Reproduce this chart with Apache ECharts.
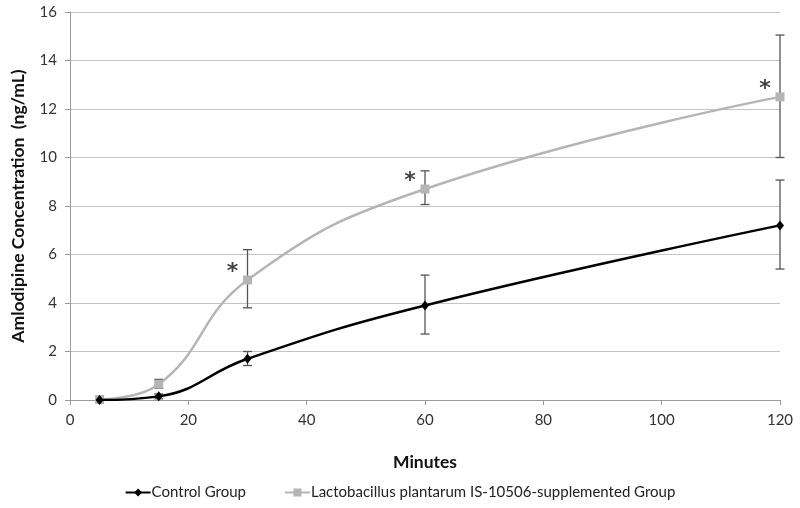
<!DOCTYPE html>
<html><head><meta charset="utf-8">
<script src="https://cdn.jsdelivr.net/npm/echarts@6/dist/echarts.min.js"></script>
<style>html,body{margin:0;padding:0;background:#fff}#c{width:800px;height:508px}</style>
</head><body><div id="c"></div>
<script>
var minutes = [5, 15, 30, 60, 120];
var controlMean = [0, 0.15, 1.7, 3.9, 7.2];
var controlLow = [0, 0.05, 1.42, 2.72, 5.4];
var controlHigh = [0, 0.25, 2.0, 5.15, 9.07];
var lactoMean = [0.02, 0.65, 4.95, 8.7, 12.5];
var lactoLow = [0.02, 0.48, 3.8, 8.06, 10.0];
var lactoHigh = [0.02, 0.85, 6.2, 9.45, 15.05];
var sigMinutes = [30, 60, 120];
var sigValues = [4.95, 8.7, 12.5];
var xTicks = [0, 20, 40, 60, 80, 100, 120];
var yTicks = [0, 2, 4, 6, 8, 10, 12, 14, 16];
var controlName = 'Control Group';
var lactoName = 'Lactobacillus plantarum IS-10506-supplemented Group';

var FONT = 'Lato';
function pairs(xs, ys){ return xs.map(function(x,i){return [x, ys[i]];}); }
function errData(xs, lo, hi){ return xs.map(function(x,i){return [x, lo[i], hi[i]];}); }
function errSeries(data){
  return {
    type:'custom', silent:true, z:1,
    data:data,
    renderItem:function(params, api){
      var x = api.value(0), lo = api.value(1), hi = api.value(2);
      if (hi - lo < 1e-6) return null;
      var p1 = api.coord([x, hi]), p2 = api.coord([x, lo]);
      var w = 4.5;
      var st = {stroke:'#555', lineWidth:1.3};
      return {type:'group', children:[
        {type:'line', shape:{x1:p1[0], y1:p1[1], x2:p2[0], y2:p2[1]}, style:st},
        {type:'line', shape:{x1:p1[0]-w, y1:p1[1], x2:p1[0]+w, y2:p1[1]}, style:st},
        {type:'line', shape:{x1:p2[0]-w, y1:p2[1], x2:p2[0]+w, y2:p2[1]}, style:st}
      ]};
    }
  };
}
var chart = echarts.init(document.getElementById('c'));
chart.setOption({
  animation:false,
  backgroundColor:'#fff',
  textStyle:{fontFamily:FONT},
  grid:{left:70, right:20, top:12, bottom:108, containLabel:false, outerBoundsMode:'none'},
  legend:{
    top:480, left:'center', itemWidth:25, itemHeight:10, itemGap:38,
    textStyle:{fontFamily:FONT, fontSize:15, color:'#222', padding:[0,0,0,-4]},
    data:[controlName, lactoName]
  },
  xAxis:{
    type:'value', min:0, max:120, interval:20,
    name:'Minutes', nameLocation:'middle', nameGap:53,
    nameTextStyle:{fontFamily:FONT, fontSize:17.5, fontWeight:'bold', color:'#111'},
    axisLine:{show:true, lineStyle:{color:'#9a9a9a', width:1}},
    axisTick:{show:true, inside:false, length:5, lineStyle:{color:'#9a9a9a'}},
    axisLabel:{fontFamily:FONT, fontSize:15, color:'#333', margin:13,
      formatter:function(v){return xTicks.indexOf(v)>=0 ? String(v) : '';}},
    splitLine:{show:false}
  },
  yAxis:{
    type:'value', min:0, max:16, interval:2,
    name:'Amlodipine Concentration  (ng/mL)', nameLocation:'middle', nameGap:43,
    nameTextStyle:{fontFamily:FONT, fontSize:17.5, fontWeight:'bold', color:'#111'},
    axisLine:{show:true, lineStyle:{color:'#9a9a9a', width:1}},
    axisTick:{show:true, inside:false, length:5, lineStyle:{color:'#9a9a9a'}},
    axisLabel:{fontFamily:FONT, fontSize:15, color:'#333', margin:13,
      formatter:function(v){return yTicks.indexOf(v)>=0 ? String(v) : '';}},
    splitLine:{show:true, lineStyle:{color:'#c4c4c4', width:1.2}}
  },
  series:[
    errSeries(errData(minutes, lactoLow, lactoHigh)),
    errSeries(errData(minutes, controlLow, controlHigh)),
    {
      name:lactoName, type:'line', smooth:0.45, z:3,
      data:pairs(minutes, lactoMean),
      symbol:'rect', symbolSize:9,
      lineStyle:{color:'#b5b5b5', width:2.5},
      itemStyle:{color:'#b5b5b5'}
    },
    {
      name:controlName, type:'line', smooth:0.45, z:4,
      data:pairs(minutes, controlMean),
      symbol:'diamond', symbolSize:[8,10],
      lineStyle:{color:'#000', width:2.5},
      itemStyle:{color:'#000'}
    },
    {
      type:'scatter', silent:true, z:5, symbolSize:0,
      data:pairs(sigMinutes, sigValues),
      label:{show:true, formatter:'*', position:'inside', offset:[-15,-8],
        fontFamily:'DejaVu Sans', fontWeight:'bold', fontSize:22, color:'#111'}
    }
  ]
});
</script></body></html>
